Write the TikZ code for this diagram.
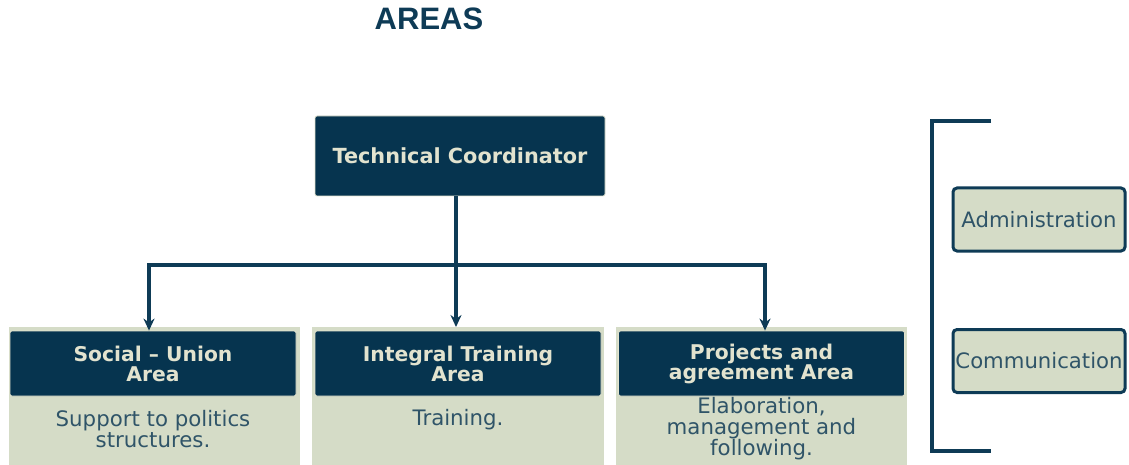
\documentclass[tikz,border=0pt]{standalone}
\usepackage{fontspec}
\setmainfont{DejaVu Sans}
\newfontfamily\titlefont{Liberation Sans}
\usetikzlibrary{arrows.meta,calc}

\definecolor{navy}{HTML}{06344F}
\definecolor{cream}{HTML}{E2E3CF}
\definecolor{sage}{HTML}{D5DCC7}
\definecolor{inkblue}{HTML}{2F5468}
\definecolor{linkblue}{HTML}{0E3B56}

\tikzset{
  headbox/.style={fill=navy, draw=cream, line width=0.8pt, rounded corners=2pt,
    text=cream, font=\bfseries\fontsize{20.3}{20}\selectfont, align=center,
    minimum width=286, minimum height=65, inner sep=0pt},
  bodytext/.style={text=inkblue, font=\fontsize{21.3}{21}\selectfont, align=center, inner sep=0pt},
  sidebox/.style={fill=sage, draw=linkblue, line width=3pt, rounded corners=4pt,
    text=inkblue, font=\fontsize{21.2}{22}\selectfont,
    minimum width=172, minimum height=63, inner sep=0pt},
  link/.style={draw=linkblue, line width=3.5pt},
  tip/.tip={Stealth[length=12pt,width=11pt]},
  linkarrow/.style={link, -tip}
}

\begin{document}
\begin{tikzpicture}[x=1pt,y=-1pt]
  \useasboundingbox (0,0) rectangle (1129,465);

  % title
  \node (title) [text=linkblue, font=\titlefont\bfseries\fontsize{31}{33}\selectfont]
    at (429,19) {AREAS};

  % coordinator
  \node (coord) [headbox, minimum width=290, minimum height=80,
    font=\bfseries\fontsize{20.8}{22}\selectfont] at (460,156) {Technical Coordinator};

  % light columns behind the headers
  \fill[sage] (9,327) rectangle (300,465);
  \fill[sage] (312,327) rectangle (604,465);
  \fill[sage] (616,327) rectangle (907,465);

  \node (areaA) [headbox] at (153,363.5) {Social -- Union\\Area};
  \node (areaB) [headbox] at (458,363.5) {Integral Training\\Area};
  \node (areaC) [headbox] at (761.5,363.5) {Projects and\\agreement Area};

  \node (taskA) [bodytext] at (153,429) {Support to politics\\structures.};
  \node (taskB) [bodytext] at (458,420) {Training.};
  \node (taskC) [bodytext] at (761.5,429) {Elaboration,\\management and\\following.};

  % connectors
  \coordinate (busL) at (149,265);
  \coordinate (busR) at (765,265);
  \coordinate (dropB) at (456,327);
  \draw[link, tip-tip] (busL |- areaA.north) -- (busL) -- (busR) -- (busR |- areaC.north);
  \draw[linkarrow] (coord.south -| dropB) -- (dropB);

  % support units
  \coordinate (brTop) at (991,121);
  \coordinate (brBot) at (991,451);
  \draw[link] (brTop) -- (932,121) -- (932,451) -- (brBot);

  \node (admin) [sidebox] at (1039,219.5) {Administration};
  \node (comm) [sidebox] at (1039,361) {Communication};
\end{tikzpicture}
\end{document}
